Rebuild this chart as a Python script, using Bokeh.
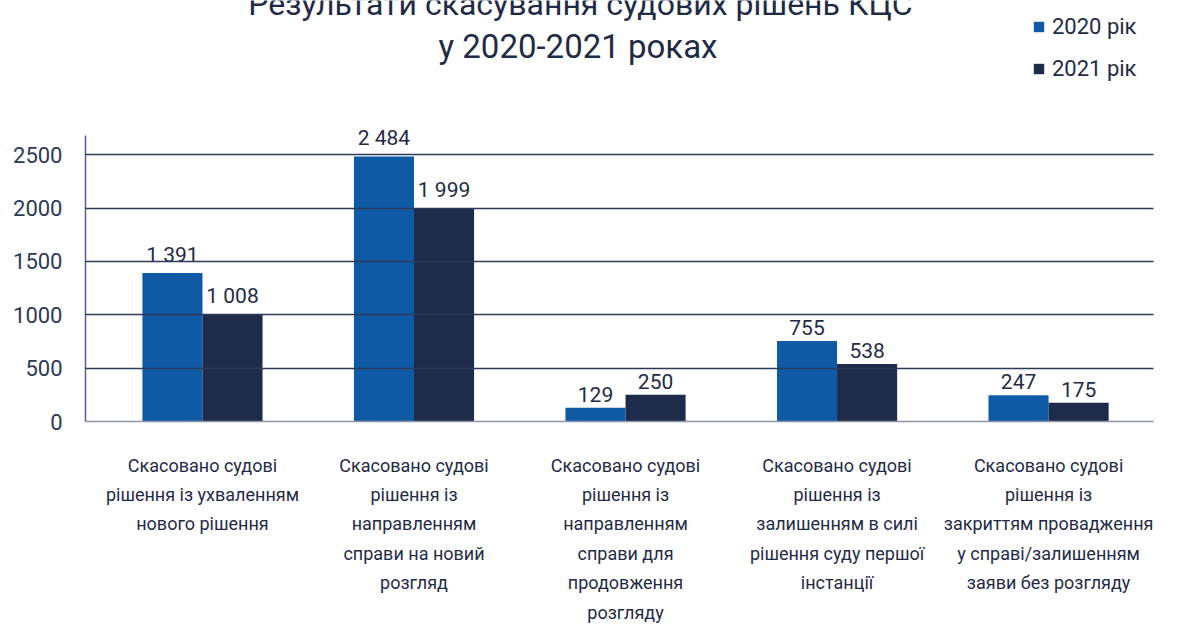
from bokeh.plotting import figure
from bokeh.models import Range1d, FixedTicker, Label, Legend, LegendItem, ColumnDataSource
from bokeh.transform import dodge
from bokeh.embed import file_html
from bokeh.resources import INLINE
from bokeh.core.properties import value

# ---- data ----
categories = [
    "Скасовано судові\nрішення із ухваленням\nнового рішення",
    "Скасовано судові\nрішення із\nнаправленням\nсправи на новий\nрозгляд",
    "Скасовано судові\nрішення із\nнаправленням\nсправи для\nпродовження\nрозгляду",
    "Скасовано судові\nрішення із\nзалишенням в силі\nрішення суду першої\nінстанції",
    "Скасовано судові\nрішення із\nзакриттям провадження\nу справі/залишенням\nзаяви без розгляду",
]
years = ["2020 рік", "2021 рік"]
v2020 = [1391, 2484, 129, 755, 247]
v2021 = [1008, 1999, 250, 538, 175]
y_ticks = [0, 500, 1000, 1500, 2000, 2500]
title_lines = ["Результати скасування судових рішень КЦС", "у 2020-2021 роках"]

FONT = "Roboto"
TEXT = "#1f2b45"
C2020 = "#0f5aa5"
C2021 = "#1e2b4a"

AXIS_TOP = 2680      # visible extent of the value axis
VIEW_TOP = 3945      # room above the axis for title and legend


def fmt(v):
    return f"{v:,}".replace(",", " ")


idx = list(range(len(categories)))
src = ColumnDataSource(dict(
    x=idx, v2020=v2020, v2021=v2021,
    l2020=[fmt(v) for v in v2020], l2021=[fmt(v) for v in v2021],
))

p = figure(width=1180, height=628, output_backend="svg", toolbar_location=None,
           x_range=Range1d(-0.553, 4.496), y_range=Range1d(0, VIEW_TOP),
           min_border_left=85, min_border_right=27, min_border_top=0, min_border_bottom=207)
p.outline_line_color = None
p.background_fill_color = "white"

r1 = p.vbar(x=dodge("x", -0.142, range=p.x_range), top="v2020", width=0.284, source=src,
            fill_color=C2020, line_color=None)
r2 = p.vbar(x=dodge("x", 0.142, range=p.x_range), top="v2021", width=0.284, source=src,
            fill_color=C2021, line_color=None)

for col, lab, off in (("v2020", "l2020", -0.142), ("v2021", "l2021", 0.142)):
    p.text(x=dodge("x", off, range=p.x_range), y=col, text=lab, source=src,
           text_align="center", text_baseline="bottom", y_offset=-6,
           text_font=value(FONT), text_font_size="21px", text_color=TEXT)

# axes
p.xaxis.ticker = FixedTicker(ticks=idx)
p.xaxis.major_label_overrides = {i: c for i, c in enumerate(categories)}
p.xaxis.major_tick_line_color = None
p.xaxis.major_tick_out = 0
p.xaxis.major_tick_in = 0
p.xaxis.minor_tick_line_color = None
p.xaxis.axis_line_color = "#8c95a6"
p.xaxis.axis_line_width = 1.5
p.xaxis.major_label_text_font = FONT
p.xaxis.major_label_text_font_size = "18px"
p.xaxis.major_label_text_line_height = 1.40
p.xaxis.major_label_text_color = TEXT
p.xaxis.major_label_standoff = 33

p.yaxis.ticker = FixedTicker(ticks=y_ticks)
p.yaxis.bounds = (0, AXIS_TOP)
p.yaxis.major_tick_line_color = None
p.yaxis.major_tick_out = 0
p.yaxis.major_tick_in = 0
p.yaxis.minor_tick_line_color = None
p.yaxis.axis_line_color = "#56627e"
p.yaxis.axis_line_width = 1.5
p.yaxis.major_label_text_font = FONT
p.yaxis.major_label_text_font_size = "22px"
p.yaxis.major_label_text_color = "#2d3a55"
p.yaxis.major_label_standoff = 23

p.xgrid.visible = False
p.ygrid.ticker = FixedTicker(ticks=y_ticks)
p.ygrid.grid_line_color = "#2c3a58"
p.ygrid.grid_line_width = 1.5
p.ygrid.level = "overlay"

# title lines (the first one is cut by the top edge, as in the source image)
p.add_layout(Label(x=495, y=418, x_units="screen", y_units="screen", text=title_lines[0],
                   text_align="center", text_baseline="alphabetic", text_font=FONT,
                   text_font_size="32px", text_color=TEXT))
p.add_layout(Label(x=492.5, y=375, x_units="screen", y_units="screen", text=title_lines[1],
                   text_align="center", text_baseline="alphabetic", text_font=FONT,
                   text_font_size="33px", text_color=TEXT))

legend = Legend(items=[LegendItem(label=years[0], renderers=[r1]),
                       LegendItem(label=years[1], renderers=[r2])],
                location=(947, 340), orientation="vertical",
                glyph_width=13, glyph_height=13, label_height=21, label_standoff=7,
                spacing=17, padding=0, margin=0, border_line_color=None,
                background_fill_alpha=0,
                label_text_font=FONT, label_text_font_size="22px", label_text_color=TEXT)
p.add_layout(legend)

open("out.html", "w").write(file_html(p, INLINE, title="Результати скасування судових рішень КЦС"))
